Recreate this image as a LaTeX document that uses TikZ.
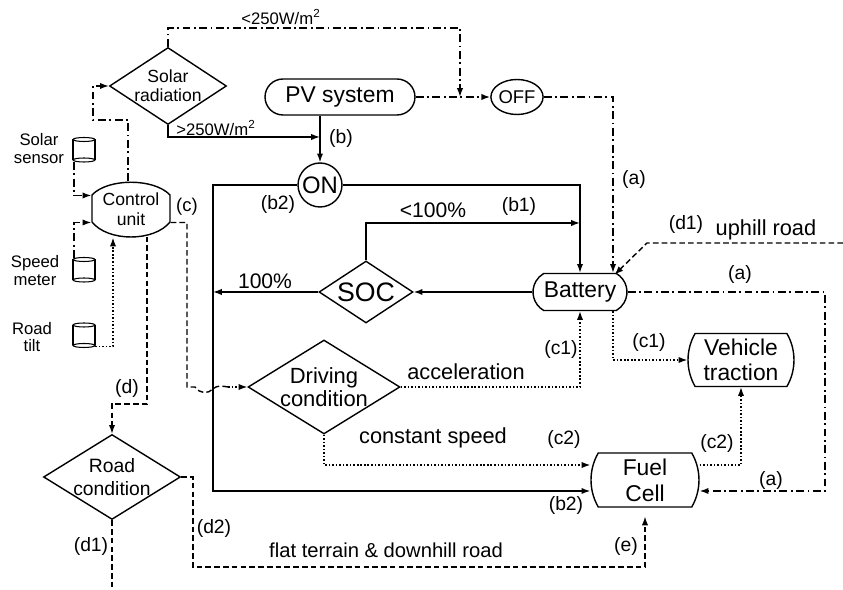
\documentclass[tikz,border=0pt]{standalone}
\usepackage{fontspec}
\setmainfont{Liberation Sans}
\usetikzlibrary{shapes.geometric,shapes.misc,arrows.meta,calc}
\newcommand{\fsz}[2]{\fontsize{#1}{#2}\selectfont}

\begin{document}
\begin{tikzpicture}[x=0.02cm,y=-0.02cm,
  line width=0.8pt,
  arr/.style={-{Latex[length=5pt,width=3.6pt]}},
  dashdotline/.style={dash pattern=on 4.5pt off 2pt on 1pt off 2pt},
  dashline/.style={dash pattern=on 3.2pt off 1.8pt},
  dotline/.style={line width=0.7pt,dash pattern=on 0.9pt off 1.1pt},
  block/.style={draw, rounded rectangle, inner sep=0pt, align=center, font=\fsz{13}{14}},
  decision/.style={draw, diamond, inner sep=0pt},
  dtext/.style={inner sep=0pt, align=center},
  lbl/.style={inner sep=0pt, font=\fsz{11}{12}},
  note/.style={inner sep=0pt, font=\fsz{12.4}{14}},
  slbl/.style={inner sep=0pt, align=center, font=\fsz{9.5}{10.2}}]

\useasboundingbox (0,0) rectangle (843,590);

% Draw the decision blocks
\node[decision, minimum width=2.34cm, minimum height=1.54cm,
  label={[dtext,font=\fsz{10}{11}]center:Solar\\radiation}] (solar) at (168,86) {};
\node[decision, minimum width=1.88cm, minimum height=1.24cm,
  label={[dtext,font=\fsz{15.2}{16}]center:SOC}] (soc) at (366,292) {};
\node[decision, minimum width=3.04cm, minimum height=1.88cm,
  label={[dtext,font=\fsz{12.5}{13}]center:Driving\\condition}] (drive) at (324,387) {};
\node[decision, minimum width=2.74cm, minimum height=1.70cm,
  label={[dtext,font=\fsz{11}{13}]center:Road\\condition}] (road) at (112,477) {};

% Draw the source and load blocks
\node[block, minimum width=3.0cm, minimum height=0.72cm] (pv) at (340,97) {PV system};
\node[block, rounded rectangle arc length=120, minimum width=1.88cm, minimum height=0.74cm] (bat) at (580,292) {Battery};
\node[block, rounded rectangle arc length=60, minimum width=1.94cm, minimum height=1.06cm] (veh) at (741,360) {Vehicle\\traction};
\node[block, rounded rectangle arc length=60, minimum width=1.5cm, minimum height=1.08cm, font=\fsz{13}{14.7}] (fc) at (645,480) {Fuel\\Cell};

% Draw the switches
\node[draw, circle, inner sep=0pt, minimum size=0.88cm, font=\fsz{13.6}{14}] (on) at (320,185) {ON};
\node[draw, ellipse, inner sep=0pt, minimum width=0.98cm, minimum height=0.7cm, font=\fsz{10.5}{11}] (off) at (517,97) {OFF};

% Draw the control unit
\node[inner sep=0pt, minimum width=1.56cm, minimum height=1.1cm, align=center, font=\fsz{10}{11.5}] (cu) at (131,209.5) {Control\\unit};
\draw (92,195) .. controls (108,178) and (154,178) .. (170,195) -- (170,222)
  .. controls (154,242) and (108,242) .. (92,222) -- cycle;

% Draw the sensors
\foreach \n/\y in {ss/150, sm/270, rt/335.5} {
  \coordinate (\n) at (84,\y);
  \draw[line width=0.6pt] (73,{\y-10.5}) -- (73,{\y+10}) (95,{\y-10.5}) -- (95,{\y+10});
  \draw[line width=0.6pt] (84,{\y-10.5}) ellipse[x radius=0.22cm, y radius=0.04cm];
  \draw[line width=0.6pt] (84,{\y+10}) ellipse[x radius=0.22cm, y radius=0.04cm];
}
\node[slbl] (ssl) at (39,149) {Solar\\sensor};
\node[slbl] (sml) at (35,270.5) {Speed\\meter};
\node[slbl] (rtl) at (32,337) {Road\\tilt};

% Helper points
\coordinate (bjoin) at (320,137);
\coordinate (offjoin) at (460,97);
\coordinate (lft) at (213,185);
\coordinate (uphill) at (843,243);

% Solar radiation branches
\draw[dashdotline,arr] (solar.north) -- (solar.north |- 0,28) -| (offjoin);
\draw[arr] (solar.south) |- (bjoin);
\node[lbl, font=\fsz{9.5}{10}] (lo) at (281,17) {<250W/m\textsuperscript{2}};
\node[lbl, font=\fsz{9.5}{10}] (hi) at (216,128) {>250W/m\textsuperscript{2}};

% PV system branches
\draw[arr] (on |- pv.south) -- (on.north);
\draw[dashdotline,arr] (pv.east) -- (off.west);
\draw[dashdotline,arr] (off.east) -| ($(bat.north)+(33,0)$);
\node[lbl] (lb) at (341,139) {(b)};
\node[lbl] (la1) at (634,180) {(a)};

% ON branches
\draw[arr] (on.east) -| (bat.north);
\draw[arr] (on.west) -- (lft) |- ($(fc.west)+(0,11)$);
\node[lbl] (lb2) at (278,205) {(b2)};
\node[lbl] (lb1) at (519,207) {(b1)};
\node[lbl] (lb2b) at (566,506) {(b2)};

% SOC branches
\draw[arr] (bat.west) -- (soc.east);
\draw[arr] (soc.north) |- (bat.north |- 0,223);
\draw[arr] (soc.west) -- (soc.west -| lft);
\node[note, font=\fsz{12}{13}] (lt100) at (433,210) {<100\%};
\node[note, font=\fsz{12}{13}] (eq100) at (265,281) {100\%};

% Battery branches
\draw[dashline,arr] (uphill) -- (647,243) -- ($(bat.north east)+(-2,2)$);
\draw[dashdotline,arr] (bat.east) -- (825,292) |- ($(fc.east)+(0,11)$);
\draw[dotline,arr] ($(bat.south)+(33,0)$) |- (veh.west);
\node[lbl] (ld1) at (686,225) {(d1)};
\node[note] (lup) at (766,230) {uphill road};
\node[lbl] (la2) at (740,275) {(a)};
\node[lbl] (lc1b) at (649,343) {(c1)};

% Control unit links
\draw[dashdotline,arr] ($(cu.north)+(-3,0)$) |- (93,120) |- (solar.west);
\draw[dashdotline,arr] ($(ss)+(-10,12)$) |- ($(cu.west)+(0,-14)$);
\draw[dashdotline,arr] ($(sm)+(-10,-12)$) |- ($(cu.west)+(0,13)$);
\draw[dotline,arr] ($(rt)+(11,11)$) -| ($(cu.south)+(-18,0)$);
\draw[dashline,arr] ($(cu.south)+(16,-1)$) |- (road.north |- 0,404) -- (road.north);
\draw[dashline] ($(cu.east)+(0,13)$) -| (187,387) -- (195,387)
  .. controls (200,394) and (208,394) .. (213,389)
  .. controls (217,385) and (222,386) .. (228,387);
\draw[dotline,arr] (228,387) -- (drive.west);
\node[lbl, font=\fsz{10.5}{11}] (lc) at (187,207) {(c)};
\node[lbl] (ld) at (127,389) {(d)};

% Driving condition branches
\draw[dotline,arr] (drive.east) -| (bat.south);
\draw[dotline,arr] (drive.south) |- ($(fc.west)+(0,-15)$);
\draw[dotline,arr] ($(fc.east)+(0,-15)$) -| (veh.south);
\node[lbl] (lc1) at (561,350) {(c1)};
\node[note] (lacc) at (466,372) {acceleration};
\node[note] (lcs) at (433,438) {constant speed};
\node[lbl] (lc2) at (564,440) {(c2)};
\node[lbl] (lc2b) at (717,444) {(c2)};
\node[lbl] (la3) at (771,481) {(a)};

% Road condition branches
\draw[dashline,arr,shorten >=5pt] (road.east) -- (193,477) |- (fc.south |- 0,567) -- (fc.south);
\draw[dashline] (road.south) -- (road.south |- 0,590);
\node[lbl] (ld2) at (214,529) {(d2)};
\node[lbl] (ld1b) at (91,547) {(d1)};
\node[note, font=\fsz{11.5}{13}] (lflat) at (386,550) {flat terrain \& downhill road};
\node[lbl] (le) at (626,547) {(e)};

\end{tikzpicture}
\end{document}
